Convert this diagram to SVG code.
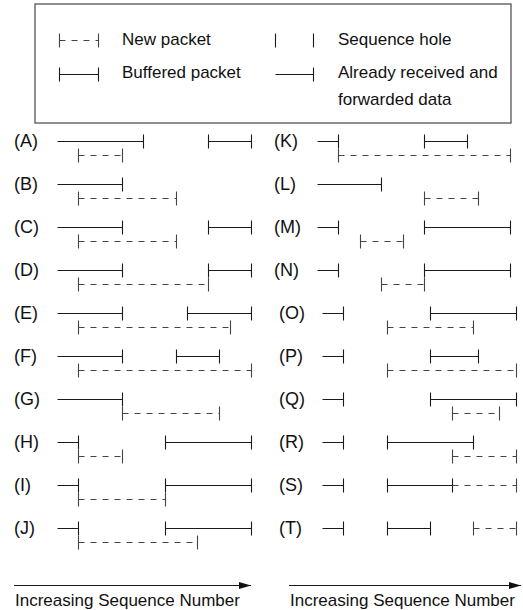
<svg xmlns="http://www.w3.org/2000/svg" width="523" height="610" viewBox="0 0 523 610">
<style>
  text { font-family: "Liberation Sans", Arial, Helvetica, sans-serif; fill: #111; }
  .lg { font-size: 17px; }
  .lb { font-size: 18px; }
  .s { fill: none; stroke: #1a1a1a; stroke-width: 1.1; }
  .d { fill: none; stroke: #444; stroke-width: 1.1; stroke-dasharray: 6 6; }
  .dt { fill: none; stroke: #444; stroke-width: 1.1; }
  .box { fill: #fff; stroke: #555; stroke-width: 1.3; }
</style>
<defs>
  <marker id="ah" markerUnits="userSpaceOnUse" markerWidth="13" markerHeight="8" refX="12" refY="4" orient="auto">
    <path d="M0 0.6L12 4L0 7.4z" fill="#111"/>
  </marker>
</defs>
<rect width="523" height="610" fill="#fff"/>

<g id="legend">
  <rect class="box" x="35" y="4" width="476" height="119"/>
  <g transform="translate(0.5 0.5)">
    <path class="d" d="M59 40H98"/>
    <path class="dt" d="M59 33v14M98 33v14"/>
    <path class="s" d="M275 33v14M313 33v14"/>
    <path class="s" d="M59 74H98M59 67v14M98 67v14"/>
    <path class="s" d="M275 74H313M313 67v14"/>
  </g>
  <text class="lg" x="122" y="45">New packet</text>
  <text class="lg" x="338" y="45">Sequence hole</text>
  <text class="lg" x="122" y="78">Buffered packet</text>
  <text class="lg" x="338" y="78">Already received and</text>
  <text class="lg" x="338" y="105">forwarded data</text>
</g>

<g id="row-A">
  <text class="lb" x="14" y="147">(A)</text>
  <g transform="translate(0.5 0.5)">
  <path class="s" d="M57 141H143M143 134v14M208 141H251M208 134v14M251 134v14"/>
  <path class="d" d="M78 155H122"/><path class="dt" d="M78 148v14M122 148v14"/>
  </g>
</g>
<g id="row-B">
  <text class="lb" x="14" y="190">(B)</text>
  <g transform="translate(0.5 0.5)">
  <path class="s" d="M57 184H122M122 177v14"/>
  <path class="d" d="M78 198H176"/><path class="dt" d="M78 191v14M176 191v14"/>
  </g>
</g>
<g id="row-C">
  <text class="lb" x="14" y="233">(C)</text>
  <g transform="translate(0.5 0.5)">
  <path class="s" d="M57 227H122M122 220v14M208 227H251M208 220v14M251 220v14"/>
  <path class="d" d="M78 241H176"/><path class="dt" d="M78 234v14M176 234v14"/>
  </g>
</g>
<g id="row-D">
  <text class="lb" x="14" y="276">(D)</text>
  <g transform="translate(0.5 0.5)">
  <path class="s" d="M57 270H122M122 263v14M208 270H251M208 263v14M251 263v14"/>
  <path class="d" d="M78 284H208"/><path class="dt" d="M78 277v14M208 277v14"/>
  </g>
</g>
<g id="row-E">
  <text class="lb" x="14" y="319">(E)</text>
  <g transform="translate(0.5 0.5)">
  <path class="s" d="M57 313H122M122 306v14M187 313H251M187 306v14M251 306v14"/>
  <path class="d" d="M78 327H230"/><path class="dt" d="M78 320v14M230 320v14"/>
  </g>
</g>
<g id="row-F">
  <text class="lb" x="14" y="362">(F)</text>
  <g transform="translate(0.5 0.5)">
  <path class="s" d="M57 356H122M122 349v14M176 356H219M176 349v14M219 349v14"/>
  <path class="d" d="M78 370H251"/><path class="dt" d="M78 363v14M251 363v14"/>
  </g>
</g>
<g id="row-G">
  <text class="lb" x="14" y="405">(G)</text>
  <g transform="translate(0.5 0.5)">
  <path class="s" d="M57 399H122M122 392v14"/>
  <path class="d" d="M122 413H219"/><path class="dt" d="M122 406v14M219 406v14"/>
  </g>
</g>
<g id="row-H">
  <text class="lb" x="14" y="448">(H)</text>
  <g transform="translate(0.5 0.5)">
  <path class="s" d="M57 442H78M78 435v14M165 442H251M165 435v14M251 435v14"/>
  <path class="d" d="M78 456H122"/><path class="dt" d="M78 449v14M122 449v14"/>
  </g>
</g>
<g id="row-I">
  <text class="lb" x="14" y="491">(I)</text>
  <g transform="translate(0.5 0.5)">
  <path class="s" d="M57 485H78M78 478v14M165 485H251M165 478v14M251 478v14"/>
  <path class="d" d="M78 499H165"/><path class="dt" d="M78 492v14M165 492v14"/>
  </g>
</g>
<g id="row-J">
  <text class="lb" x="14" y="534">(J)</text>
  <g transform="translate(0.5 0.5)">
  <path class="s" d="M57 528H78M78 521v14M165 528H251M165 521v14M251 521v14"/>
  <path class="d" d="M78 542H197"/><path class="dt" d="M78 535v14M197 535v14"/>
  </g>
</g>

<g id="row-K">
  <text class="lb" x="274" y="147">(K)</text>
  <g transform="translate(0.5 0.5)">
  <path class="s" d="M317 141H338M338 134v14M424 141H467M424 134v14M467 134v14"/>
  <path class="d" d="M338 155H510"/><path class="dt" d="M338 148v14M510 148v14"/>
  </g>
</g>
<g id="row-L">
  <text class="lb" x="274" y="190">(L)</text>
  <g transform="translate(0.5 0.5)">
  <path class="s" d="M317 184H381M381 177v14"/>
  <path class="d" d="M424 198H478"/><path class="dt" d="M424 191v14M478 191v14"/>
  </g>
</g>
<g id="row-M">
  <text class="lb" x="274" y="233">(M)</text>
  <g transform="translate(0.5 0.5)">
  <path class="s" d="M317 227H338M338 220v14M424 227H510M424 220v14M510 220v14"/>
  <path class="d" d="M360 241H403"/><path class="dt" d="M360 234v14M403 234v14"/>
  </g>
</g>
<g id="row-N">
  <text class="lb" x="274" y="276">(N)</text>
  <g transform="translate(0.5 0.5)">
  <path class="s" d="M317 270H338M338 263v14M424 270H510M424 263v14M510 263v14"/>
  <path class="d" d="M381 284H424"/><path class="dt" d="M381 277v14M424 277v14"/>
  </g>
</g>
<g id="row-O">
  <text class="lb" x="279" y="319">(O)</text>
  <g transform="translate(0.5 0.5)">
  <path class="s" d="M322 313H343M343 306v14M430 313H516M430 306v14M516 306v14"/>
  <path class="d" d="M387 327H473"/><path class="dt" d="M387 320v14M473 320v14"/>
  </g>
</g>
<g id="row-P">
  <text class="lb" x="279" y="362">(P)</text>
  <g transform="translate(0.5 0.5)">
  <path class="s" d="M322 356H343M343 349v14M430 356H478M430 349v14M478 349v14"/>
  <path class="d" d="M387 370H516"/><path class="dt" d="M387 363v14M516 363v14"/>
  </g>
</g>
<g id="row-Q">
  <text class="lb" x="279" y="405">(Q)</text>
  <g transform="translate(0.5 0.5)">
  <path class="s" d="M322 399H343M343 392v14M430 399H516M430 392v14M516 392v14"/>
  <path class="d" d="M452 413H499"/><path class="dt" d="M452 406v14M499 406v14"/>
  </g>
</g>
<g id="row-R">
  <text class="lb" x="279" y="448">(R)</text>
  <g transform="translate(0.5 0.5)">
  <path class="s" d="M322 442H343M343 435v14M387 442H473M387 435v14M473 435v14"/>
  <path class="d" d="M452 456H516"/><path class="dt" d="M452 449v14M516 449v14"/>
  </g>
</g>
<g id="row-S">
  <text class="lb" x="279" y="491">(S)</text>
  <g transform="translate(0.5 0.5)">
  <path class="s" d="M322 485H343M343 478v14M387 485H452M387 478v14M452 478v14"/>
  <path class="d" d="M452 485H516"/><path class="dt" d="M516 478v14"/>
  </g>
</g>
<g id="row-T">
  <text class="lb" x="279" y="534">(T)</text>
  <g transform="translate(0.5 0.5)">
  <path class="s" d="M322 528H343M343 521v14M387 528H430M387 521v14M430 521v14"/>
  <path class="d" d="M473 528H516"/><path class="dt" d="M473 521v14M516 521v14"/>
  </g>
</g>

<g id="connectors" transform="translate(0 0.5)">
  <path class="s" d="M14 585H251" stroke="#111" marker-end="url(#ah)"/>
  <path class="s" d="M289 585H521" stroke="#111" marker-end="url(#ah)"/>
</g>
<g id="axis-labels">
  <text class="lg" x="15" y="606">Increasing Sequence Number</text>
  <text class="lg" x="290" y="606">Increasing Sequence Number</text>
</g>
</svg>
